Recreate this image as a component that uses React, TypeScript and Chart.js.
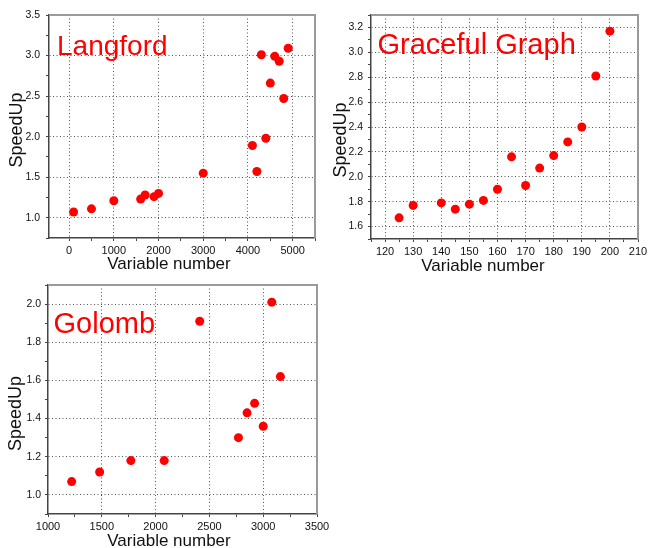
import React, { useEffect, useRef } from 'react';
import { Chart, registerables } from 'chart.js';

Chart.register(...registerables);

// ---------- data ----------
const langfordX = [100, 500, 1000, 1600, 1700, 1900, 2000, 3000, 4100, 4200, 4300, 4400, 4500, 4600, 4700, 4800, 4900];
const langfordY = [1.07, 1.11, 1.21, 1.23, 1.28, 1.26, 1.3, 1.55, 1.89, 1.57, 3.01, 1.98, 2.66, 2.99, 2.93, 2.47, 3.09];

const gracefulX = [125, 130, 140, 145, 150, 155, 160, 165, 170, 175, 180, 185, 190, 195, 200];
const gracefulY = [1.67, 1.77, 1.79, 1.74, 1.78, 1.81, 1.9, 2.16, 1.93, 2.07, 2.17, 2.28, 2.4, 2.81, 3.17];

const golombX = [1220, 1480, 1770, 2080, 2410, 2770, 2850, 2920, 3000, 3080, 3160];
const golombY = [1.07, 1.12, 1.18, 1.18, 1.91, 1.3, 1.43, 1.48, 1.36, 2.01, 1.62];

// axis ranges: [min, max, minor step, label step, first label, last label]
const langfordXAxis = [-450, 5500, 500, 1000, 0, 5000];
const langfordYAxis = [0.75, 3.5, 0.25, 0.5, 1.0, 3.5];
const gracefulXAxis = [115, 210, 5, 10, 120, 210];
const gracefulYAxis = [1.5, 3.3, 0.1, 0.2, 1.6, 3.2];
const golombXAxis = [1000, 3500, 250, 500, 1000, 3500];
const golombYAxis = [0.9, 2.1, 0.1, 0.2, 1.0, 2.0];

const xTitleText = 'Variable number';
const yTitleText = 'SpeedUp';

const FONT = '"Liberation Sans", Arial, sans-serif';

type Panel = {
  name: string;
  xs: number[];
  ys: number[];
  xAxis: number[];
  yAxis: number[];
  box: { left: number; top: number; w: number; h: number };
  area: { l: number; t: number; r: number; b: number };
  nameAt: [number, number, number];
  xTitleAt: [number, number];
  yTitleAt: [number, number];
  yPad: number;
};

const panels: Panel[] = [
  {
    name: 'Langford', xs: langfordX, ys: langfordY, xAxis: langfordXAxis, yAxis: langfordYAxis,
    box: { left: 0, top: 0, w: 324, h: 272 }, area: { l: 49, t: 15, r: 315, b: 238 },
    nameAt: [57, 55, 28], xTitleAt: [169, 269], yTitleAt: [21.5, 130], yPad: 6,
  },
  {
    name: 'Graceful Graph', xs: gracefulX, ys: gracefulY, xAxis: gracefulXAxis, yAxis: gracefulYAxis,
    box: { left: 324, top: 0, w: 324, h: 272 }, area: { l: 47, t: 15, r: 314, b: 239 },
    nameAt: [53.5, 54, 29], xTitleAt: [159, 271], yTitleAt: [22, 140], yPad: 5,
  },
  {
    name: 'Golomb', xs: golombX, ys: golombY, xAxis: golombXAxis, yAxis: golombYAxis,
    box: { left: 0, top: 272, w: 340, h: 276 }, area: { l: 48, t: 13, r: 317, b: 242 },
    nameAt: [53.5, 61, 29], xTitleAt: [169, 274], yTitleAt: [20.5, 141.5], yPad: 4,
  },
];

const isMult = (v: number, step: number) => Math.abs(v / step - Math.round(v / step)) < 1e-6;

function axisOpts(ax: number[], horizontal: boolean, pad: number, fit: (s: any) => void) {
  const [min, max, step, labelStep, lMin, lMax] = ax;
  const eps = step / 100;
  const decimals = labelStep < 1 ? 1 : 0;
  return {
    type: 'linear',
    position: horizontal ? 'bottom' : 'left',
    min,
    max,
    afterBuildTicks: (scale: any) => {
      const ticks: { value: number }[] = [];
      const first = Math.ceil((min - eps) / step);
      const last = Math.floor((max + eps) / step);
      for (let k = first; k <= last; k++) ticks.push({ value: Math.round(k * step * 1e6) / 1e6 });
      scale.ticks = ticks;
    },
    ticks: {
      stepSize: step,
      autoSkip: false,
      maxTicksLimit: 1000,
      maxRotation: 0,
      padding: pad,
      color: '#111',
      font: { family: FONT, size: horizontal ? 11 : 10.5 },
      callback: (v: number) =>
        isMult(v, labelStep) && v >= lMin - eps && v <= lMax + eps ? v.toFixed(decimals) : '',
    },
    grid: {
      color: (ctx: any) => {
        const v = ctx.tick ? ctx.tick.value : NaN;
        return isMult(v, labelStep) && v > min + eps && v < max - eps ? '#555' : 'rgba(0,0,0,0)';
      },
      lineWidth: 1,
      drawTicks: true,
      tickLength: 3,
      tickColor: '#444',
      tickWidth: 1,
    },
    border: { display: true, color: '#444', width: 1.5, dash: [1, 2.5] },
    afterFit: fit,
  };
}

function PanelChart({ p }: { p: Panel }) {
  const ref = useRef<HTMLCanvasElement | null>(null);
  useEffect(() => {
    if (!ref.current) return;
    const { w, h } = p.box;
    const { l, t, r, b } = p.area;
    const decor = {
      id: 'decor',
      beforeDatasetsDraw(chart: any) {
        const ctx = chart.ctx;
        const ca = chart.chartArea;
        ctx.save();
        ctx.strokeStyle = '#9a9a9a';
        ctx.lineWidth = 2;
        ctx.beginPath();
        ctx.moveTo(ca.left, ca.top);
        ctx.lineTo(ca.right, ca.top);
        ctx.lineTo(ca.right, ca.bottom);
        ctx.stroke();
        ctx.restore();
      },
      afterDatasetsDraw(chart: any) {
        const ctx = chart.ctx;
        ctx.save();
        ctx.fillStyle = '#ff0000';
        ctx.textBaseline = 'alphabetic';
        ctx.textAlign = 'left';
        ctx.font = `${p.nameAt[2]}px ${FONT}`;
        ctx.fillText(p.name, p.nameAt[0], p.nameAt[1]);
        ctx.fillStyle = '#111';
        ctx.textAlign = 'center';
        ctx.font = `17px ${FONT}`;
        ctx.fillText(xTitleText, p.xTitleAt[0], p.xTitleAt[1]);
        ctx.translate(p.yTitleAt[0], p.yTitleAt[1]);
        ctx.rotate(-Math.PI / 2);
        ctx.font = `18px ${FONT}`;
        ctx.fillText(yTitleText, 0, 0);
        ctx.restore();
      },
    };
    const chart = new Chart(ref.current, {
      type: 'scatter',
      data: {
        datasets: [
          {
            data: p.xs.map((x, i) => ({ x, y: p.ys[i] })),
            backgroundColor: '#ff0000',
            borderColor: '#ff0000',
            borderWidth: 0,
            pointRadius: 4.5,
            pointHoverRadius: 4.5,
          },
        ],
      },
      options: {
        responsive: false,
        animation: false,
        devicePixelRatio: 1,
        events: [],
        layout: { padding: { left: 0, top: t, right: w - r, bottom: 0 } },
        plugins: { legend: { display: false }, tooltip: { enabled: false }, title: { display: false } },
        scales: {
          x: axisOpts(p.xAxis, true, 3, (s: any) => {
            s.height = h - b;
            s.paddingLeft = 0;
            s.paddingRight = 0;
          }),
          y: axisOpts(p.yAxis, false, p.yPad, (s: any) => {
            s.width = l;
            s.paddingTop = 0;
            s.paddingBottom = 0;
          }),
        },
      } as any,
      plugins: [decor],
    });
    return () => chart.destroy();
  }, [p]);
  return (
    <canvas
      ref={ref}
      width={p.box.w}
      height={p.box.h}
      style={{ position: 'absolute', left: p.box.left, top: p.box.top, width: p.box.w, height: p.box.h, display: 'block' }}
    />
  );
}

export default function App() {
  return (
    <div style={{ position: 'absolute', left: 0, top: 0, width: 648, height: 548, background: '#fff' }}>
      {panels.map((p) => (
        <PanelChart key={p.name} p={p} />
      ))}
    </div>
  );
}
